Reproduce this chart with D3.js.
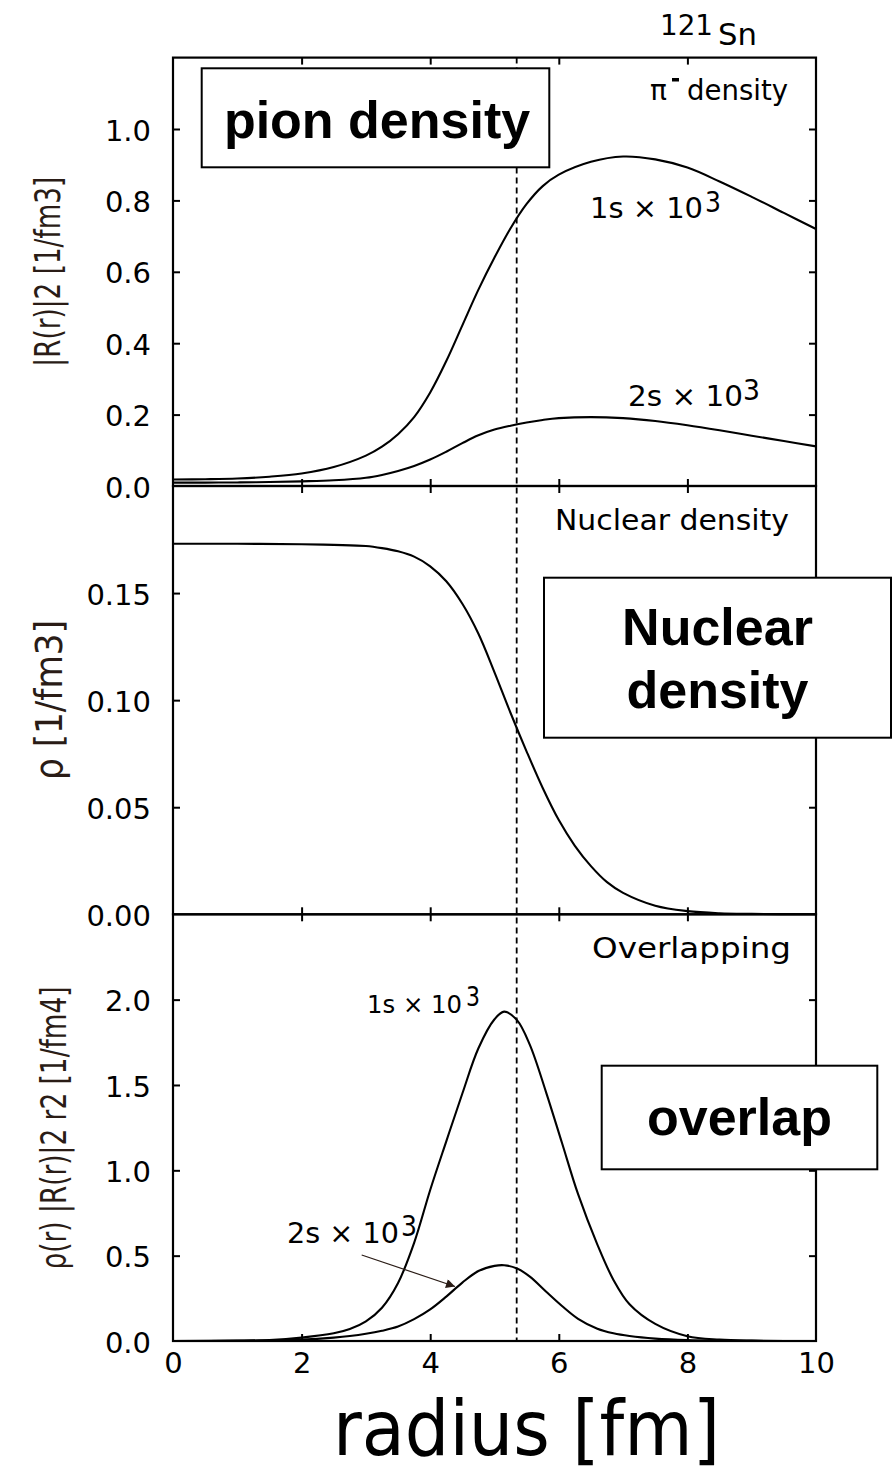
<!DOCTYPE html>
<html>
<head>
<meta charset="utf-8">
<script src="https://cdn.jsdelivr.net/npm/d3@7"></script>
<style>
  html, body { margin: 0; padding: 0; background: #fff; }
  svg { display: block; }
  text { font-family: "DejaVu Sans", sans-serif; }
</style>
</head>
<body>
<svg id="chart" width="892" height="1476"></svg>
<script>
// ---------------- data ----------------
const xTicks = [0, 2, 4, 6, 8, 10];
const innerXTicks = [2, 4, 6, 8];
const topTicks = [0, 0.2, 0.4, 0.6, 0.8, 1.0];
const midTicks = [0, 0.05, 0.10, 0.15];
const botTicks = [0, 0.5, 1.0, 1.5, 2.0];
const nuclearRadius = 5.345;

// pion density |R(r)|^2 (x10^3)
const rTop   = [0,0.5,1,1.5,2,2.5,3,3.25,3.5,3.75,4,4.25,4.5,4.75,5,5.25,5.5,5.75,6,6.5,7,7.5,8,8.5,9,9.5,10];
const pion1s = [0.018,0.019,0.021,0.026,0.035,0.053,0.085,0.11,0.145,0.193,0.262,0.35,0.45,0.55,0.64,0.722,0.79,0.84,0.872,0.908,0.923,0.915,0.892,0.853,0.81,0.765,0.72];
const pion2s = [0.0095,0.0095,0.01,0.011,0.013,0.016,0.023,0.031,0.042,0.056,0.074,0.096,0.12,0.142,0.158,0.169,0.178,0.185,0.19,0.193,0.19,0.182,0.17,0.156,0.141,0.126,0.111];

// nuclear density rho(r)
const rMid    = [0,1,2,2.5,3,3.25,3.5,3.75,4,4.25,4.5,4.75,5,5.25,5.5,5.75,6,6.25,6.5,6.75,7,7.5,8,8.5,9,10];
const nuclear = [0.173,0.173,0.1728,0.1725,0.172,0.171,0.1695,0.167,0.1625,0.1555,0.145,0.131,0.113,0.094,0.076,0.059,0.044,0.032,0.0225,0.015,0.010,0.004,0.0015,0.0005,0.0002,0.0];

// overlap rho |R|^2 r^2 (x10^3)
const rBot      = [0,1,1.5,2,2.5,2.75,3,3.25,3.5,3.75,4,4.25,4.5,4.75,5,5.15,5.35,5.55,5.8,6.05,6.3,6.6,6.85,7.1,7.5,8,8.5,9,10];
const overlap1s = [0,0.002,0.006,0.02,0.045,0.07,0.115,0.195,0.34,0.575,0.885,1.17,1.45,1.715,1.885,1.93,1.88,1.735,1.46,1.16,0.86,0.565,0.358,0.215,0.1,0.028,0.008,0.002,0];
const overlap2s = [0,0.001,0.003,0.008,0.02,0.029,0.042,0.06,0.085,0.128,0.185,0.26,0.342,0.41,0.44,0.444,0.425,0.377,0.29,0.205,0.13,0.072,0.045,0.029,0.014,0.005,0.002,0.0005,0];

// ---------------- layout ----------------
const svg = d3.select("#chart");
const X0 = 173, X1 = 816;
const x = d3.scaleLinear([0, 10], [X0, X1]);

const panels = [
  { y: d3.scaleLinear([0, 1.2], [486, 57.6]),   ticks: topTicks, fmt: d3.format(".1f") },
  { y: d3.scaleLinear([0, 0.2], [914.3, 486]),  ticks: midTicks, fmt: d3.format(".2f") },
  { y: d3.scaleLinear([0, 2.5], [1341, 914.3]), ticks: botTicks, fmt: d3.format(".1f") }
];

const tickFont = 29;
const ink = "#000";
const titleInk = "#2a1c16";

// frames + axes
panels.forEach((p, i) => {
  const [y0, y1] = p.y.range();
  const gl = svg.append("g").attr("transform", `translate(${X0},0)`)
    .call(d3.axisLeft(p.y).tickValues(p.ticks).tickFormat(p.fmt).tickSizeInner(-7).tickSizeOuter(0).tickPadding(22));
  const gr = svg.append("g").attr("transform", `translate(${X1},0)`)
    .call(d3.axisRight(p.y).tickValues(p.ticks.filter(v => v > 0)).tickFormat("").tickSizeInner(-7).tickSizeOuter(0));
  const gt = svg.append("g").attr("transform", `translate(0,${y1})`)
    .call(d3.axisTop(x).tickValues(innerXTicks).tickFormat("").tickSizeInner(-7).tickSizeOuter(0));
  const gb = svg.append("g").attr("transform", `translate(0,${y0})`)
    .call(d3.axisBottom(x).tickValues(i === 2 ? xTicks : innerXTicks)
      .tickFormat(i === 2 ? d3.format("d") : "").tickSizeInner(-7).tickSizeOuter(0).tickPadding(11));
  [gl, gr, gt, gb].forEach(g => {
    g.select(".domain").remove();
    g.selectAll(".tick line").attr("stroke", ink).attr("stroke-width", 2);
    g.selectAll(".tick text").attr("fill", ink).style("font-size", tickFont + "px")
      .style("font-family", '"DejaVu Sans", sans-serif');
  });
  gl.selectAll(".tick text").attr("dy", "0.38em");
  gb.selectAll(".tick").filter(d => d === 0 || d === 10).select("line").remove();
  gl.selectAll(".tick").filter(d => d === 0).select("line").remove();
  svg.append("rect").attr("x", X0).attr("y", y1).attr("width", X1 - X0).attr("height", y0 - y1)
    .attr("fill", "none").attr("stroke", ink).attr("stroke-width", 2.2);
});

// dashed radius line
svg.append("line")
  .attr("x1", x(nuclearRadius)).attr("x2", x(nuclearRadius))
  .attr("y1", panels[0].y(1.2)).attr("y2", panels[2].y(0))
  .attr("stroke", ink).attr("stroke-width", 1.8).attr("stroke-dasharray", "6,4");

// curves
function drawCurve(rs, vs, yScale) {
  const line = d3.line().x(d => x(d[0])).y(d => yScale(Math.max(0, d[1])))
    .curve(d3.curveCatmullRom.alpha(0.5));
  svg.append("path").datum(d3.zip(rs, vs)).attr("d", line)
    .attr("fill", "none").attr("stroke", ink).attr("stroke-width", 2.1);
}
drawCurve(rTop, pion1s, panels[0].y);
drawCurve(rTop, pion2s, panels[0].y);
drawCurve(rMid, nuclear, panels[1].y);
drawCurve(rBot, overlap1s, panels[2].y);
drawCurve(rBot, overlap2s, panels[2].y);

// boxed bold labels
function boxLabel(bx, by, bw, bh, lines) {
  svg.append("rect").attr("x", bx).attr("y", by).attr("width", bw).attr("height", bh)
    .attr("fill", "#fff").attr("stroke", ink).attr("stroke-width", 2);
  lines.forEach(l => {
    svg.append("text").attr("x", l.x).attr("y", l.y).attr("text-anchor", "middle")
      .style("font-family", '"Liberation Sans", Arial, sans-serif').style("font-weight", "bold")
      .style("font-size", "52px").attr("fill", ink).text(l.t);
  });
}
boxLabel(201.7, 68.3, 347.6, 99, [{ t: "pion density", x: 377, y: 138 }]);
boxLabel(544, 577.7, 347, 160, [{ t: "Nuclear", x: 717.5, y: 645 }, { t: "density", x: 717.5, y: 708 }]);
boxLabel(601.7, 1065.7, 275.6, 103.6, [{ t: "overlap", x: 739.5, y: 1135 }]);

// annotations
function label(tx, ty, txt, size, len) {
  const t = svg.append("text").attr("x", tx).attr("y", ty).style("font-size", size + "px")
    .attr("fill", ink).text(txt);
  if (len) t.attr("textLength", len).attr("lengthAdjust", "spacingAndGlyphs");
  return t;
}
label(660, 35, "121", 28, 53);
label(718, 45, "Sn", 30, 39);
label(650, 100, "π", 28);
svg.append("rect").attr("x", 672).attr("y", 78).attr("width", 7).attr("height", 3.5).attr("fill", ink);
label(687, 100, "density", 28, 101);
// 1s / 2s labels with raised exponent
label(590, 218, "1s × 10", 28, 113);
label(705, 212, "3", 28, 16);
label(628, 406, "2s × 10", 28, 115);
label(743, 400, "3", 28, 17);
label(555, 530, "Nuclear density", 28, 234);
label(592, 958, "Overlapping", 28, 199);
label(367, 1013, "1s × 10", 25, 95);
label(466, 1006, "3", 27, 14);
label(287, 1243, "2s × 10", 28, 112);
label(401, 1236, "3", 28, 16);

// arrow for 2s label
svg.append("defs").append("marker").attr("id", "ah").attr("viewBox", "0 0 10 10")
  .attr("refX", 10).attr("refY", 5).attr("markerWidth", 12).attr("markerHeight", 9)
  .attr("markerUnits", "userSpaceOnUse").attr("orient", "auto")
  .append("path").attr("d", "M0,0 L10,5 L0,10 Z").attr("fill", titleInk);
svg.append("line").attr("x1", 361.7).attr("y1", 1255).attr("x2", 455).attr("y2", 1286.5)
  .attr("stroke", titleInk).attr("stroke-width", 1.2).attr("marker-end", "url(#ah)");

// y axis titles
function yTitle(cx, cy, txt, size, len) {
  svg.append("text").attr("transform", `translate(${cx},${cy}) rotate(-90)`)
    .attr("text-anchor", "middle").style("font-size", size + "px").attr("fill", titleInk)
    .attr("textLength", len).attr("lengthAdjust", "spacingAndGlyphs").text(txt);
}
yTitle(60, 271.7, "|R(r)|2 [1/fm3]", 36, 190);
yTitle(62, 700, "ρ [1/fm3]", 37, 160);
yTitle(66, 1128, "ρ(r) |R(r)|2 r2 [1/fm4]", 35, 283);

// x axis title
svg.append("text").attr("x", 333).attr("y", 1455).style("font-size", "76px").attr("fill", ink)
  .attr("textLength", 387).attr("lengthAdjust", "spacingAndGlyphs").text("radius [fm]");
</script>
</body>
</html>
